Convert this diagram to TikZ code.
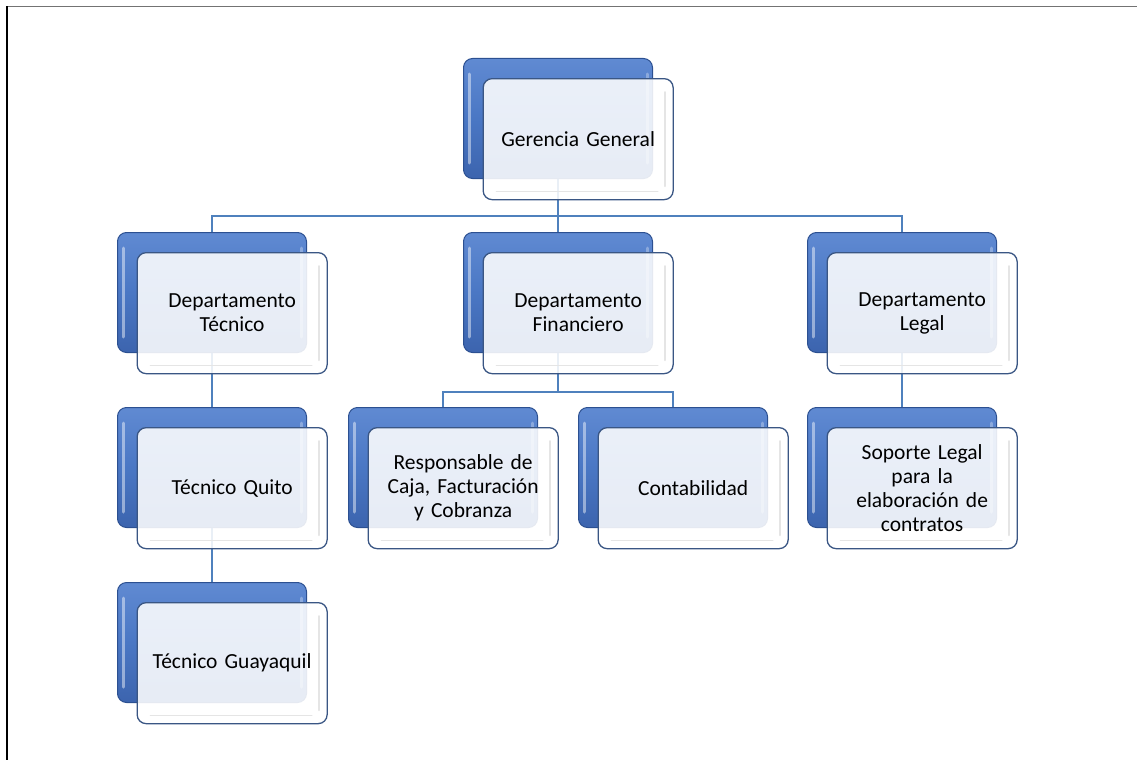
\documentclass[tikz,border=0pt]{standalone}
\usepackage{fontspec}
\setmainfont{Carlito}
\usetikzlibrary{calc}
\pgfdeclarelayer{bg}
\pgfsetlayers{bg,main}
\definecolor{connblue}{RGB}{79,129,189}
\definecolor{backtop}{RGB}{96,138,210}
\definecolor{backmid}{RGB}{74,119,196}
\definecolor{backbot}{RGB}{60,100,174}
\definecolor{backedge}{RGB}{44,80,145}
\definecolor{frontedge}{RGB}{58,86,132}
\tikzset{
  backbox/.style={rectangle, rounded corners=9pt, draw=backedge, line width=1pt,
    top color=backtop, bottom color=backbot, middle color=backmid,
    minimum width=189pt, minimum height=120pt, inner sep=0pt, anchor=north west},
  frontbox/.style={rectangle, rounded corners=9pt, draw=frontedge, line width=1.3pt,
    fill=white, fill opacity=0.88, text opacity=1, draw opacity=1,
    minimum width=190pt, minimum height=121pt, inner sep=0pt, anchor=north west,
    align=center, text width=180pt, font=\fontsize{21.5}{24}\selectfont},
  hilite/.style={line width=3pt, white, opacity=0.45, line cap=round},
  glass/.style={line width=1.6pt, black!10, line cap=round},
  conn/.style={connblue, line width=1.7pt},
  frameline/.style={line width=1.4pt}
}
\newcommand\orgunit[4]{%
  \node[backbox] (#1b) at (#2,#3) {};
  \draw[hilite] ([xshift=6pt,yshift=-16pt]#1b.north west) -- ([xshift=6pt,yshift=16pt]#1b.south west);
  \draw[hilite, opacity=0.3] ([xshift=-6pt,yshift=-16pt]#1b.north east) -- ([xshift=-6pt,yshift=16pt]#1b.south east);
  \node[frontbox] (#1) at ([xshift=19.5pt,yshift=-20pt]#1b.north west) {#4};
  \draw[glass] ([xshift=-9pt,yshift=-14pt]#1.north east) -- ([xshift=-9pt,yshift=14pt]#1.south east);
  \draw[glass] ([xshift=14pt,yshift=9pt]#1.south west) -- ([xshift=-16pt,yshift=9pt]#1.south east);
}
\begin{document}
\begin{tikzpicture}[x=1pt,y=-1pt]
\useasboundingbox (0,0) rectangle (1137,760);
\draw[frameline, black!55] (7,6.5) -- (1137,6.5);
\draw[frameline, black] (7,6.5) -- (7,760);

\orgunit{gg}{463}{58}{Gerencia General}
\orgunit{dt}{117}{232}{Departamento\\Técnico}
\orgunit{df}{463}{232}{Departamento\\Financiero}
\orgunit{dl}{807}{232}{Departamento\\Legal}
\orgunit{tq}{117}{407}{Técnico Quito}
\orgunit{rc}{348}{407}{Responsable de\\Caja, Facturación\\y Cobranza}
\orgunit{ct}{578}{407}{Contabilidad}
\orgunit{sl}{807}{407}{Soporte Legal\\para la\\elaboración de\\contratos}
\orgunit{tg}{117}{582}{Técnico Guayaquil}

\begin{pgfonlayer}{bg}
  \path (ggb.south) ++(0,37) coordinate (busA);
  \path (dfb.south) ++(0,39) coordinate (busB);
  \draw[conn] (ggb.south) -- (busA);
  \draw[conn] (busA) -| (dtb.north);
  \draw[conn] (busA) -| (dlb.north);
  \draw[conn] (busA) -- (dfb.north);
  \draw[conn] (dfb.south) -- (busB);
  \draw[conn] (busB) -| (rcb.north);
  \draw[conn] (busB) -| (ctb.north);
  \draw[conn] (dtb.south) -- (tqb.north);
  \draw[conn] (tqb.south) -- (tgb.north);
  \draw[conn] (dlb.south) -- (slb.north);
\end{pgfonlayer}
\end{tikzpicture}
\end{document}
